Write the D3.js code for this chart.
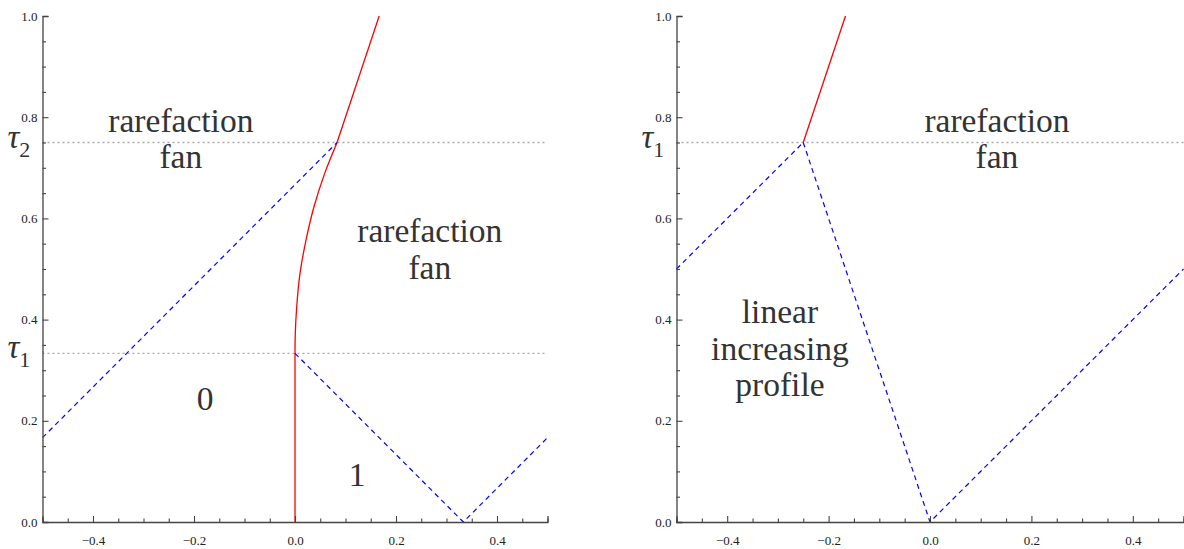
<!DOCTYPE html>
<meta charset="utf-8">
<script src="https://d3js.org/d3.v7.min.js"></script>
<style>
  body { margin: 0; background: #fff; }
</style>
<div id="my_dataviz"></div>
<script>

// ---- data ----
var xMajor = [-0.4, -0.2, 0.0, 0.2, 0.4];
var yMajor = [0.0, 0.2, 0.4, 0.6, 0.8, 1.0];
var minorStep = 0.05;

// left panel
var leftTaus = [{name: "1", value: 1/3}, {name: "2", value: 0.75}];
var leftShock = [[0, 0], [0, 1/3], [0.0005, 0.37], [0.0034, 0.4255], [0.0099, 0.4915],
                 [0.0218, 0.557], [0.0376, 0.623], [0.0588, 0.689], [0.0833, 0.75]];
var leftShockTop = [[0.0833, 0.75], [0.1667, 1.0]];
var leftCharA = [[-0.5, 1/6], [0.0833, 0.75]];
var leftCharB = [[0, 1/3], [1/3, 0], [0.5, 1/6]];
var leftLabels = [
  {lines: ["rarefaction", "fan"], x: -0.226, y: 0.771},
  {lines: ["rarefaction", "fan"], x: 0.267, y: 0.553},
  {lines: ["0"], x: -0.178, y: 0.221},
  {lines: ["1"], x: 0.123, y: 0.071}
];

// right panel
var rightTaus = [{name: "1", value: 0.75}];
var rightShock = [[-0.25, 0.75], [-0.1667, 1.0]];
var rightCharA = [[-0.5, 0.5], [-0.25, 0.75]];
var rightCharB = [[-0.25, 0.75], [0, 0], [0.5, 0.5]];
var rightLabels = [
  {lines: ["rarefaction", "fan"], x: 0.132, y: 0.771},
  {lines: ["linear", "increasing", "profile"], x: -0.296, y: 0.393}
];

// ---- layout ----
var width = 1184, height = 549;
var serif = "'Liberation Serif'";
var svg = d3.select("#my_dataviz").append("svg")
    .attr("width", width)
    .attr("height", height);

var axisColor = "#444", textColor = "#333";

function drawPanel(left, right, taus, curves, labels) {
  var x = d3.scaleLinear().domain([-0.5, 0.5]).range([left, right]);
  var y = d3.scaleLinear().domain([0, 1]).range([522, 16]);
  var g = svg.append("g");

  // dotted tau lines
  taus.forEach(function(t) {
    g.append("line")
      .attr("x1", x(-0.5)).attr("x2", x(0.5))
      .attr("y1", y(t.value)).attr("y2", y(t.value))
      .attr("stroke", "#aaa").attr("stroke-width", 1.3)
      .attr("stroke-dasharray", "2,3");
    var lab = g.append("text")
      .attr("x", left - 35).attr("y", y(t.value) + 5)
      .style("font-family", serif)
      .attr("fill", textColor);
    lab.append("tspan").style("font-family", serif).style("font-size", "33px").style("font-style", "italic").text("τ");
    lab.append("tspan").style("font-family", serif).style("font-size", "22px").attr("dy", 9).text(t.name);
  });

  // curves
  curves.forEach(function(c) {
    var line = d3.line()
      .x(function(d) { return x(d[0]); })
      .y(function(d) { return y(d[1]); })
      .curve(c.curve || d3.curveLinear);
    g.append("path")
      .attr("d", line(c.data))
      .attr("fill", "none")
      .attr("stroke", c.color)
      .attr("stroke-width", c.dash ? 1.2 : 1.3)
      .attr("stroke-dasharray", c.dash || null);
  });

  // axes
  var minorX = d3.range(-0.5, 0.5001, minorStep).filter(function(v) {
    return xMajor.every(function(m) { return Math.abs(m - v) > 1e-6; });
  });
  var minorY = d3.range(0, 1.0001, minorStep).filter(function(v) {
    return yMajor.every(function(m) { return Math.abs(m - v) > 1e-6; });
  });

  var fmt = function(d) { return d3.format(".1f")(d).replace("-", "\u2212"); };

  g.append("g").attr("transform", "translate(0," + y(0) + ")")
    .call(d3.axisBottom(x).tickValues(xMajor).tickSize(-6).tickPadding(14).tickFormat(fmt));
  g.append("g").attr("transform", "translate(0," + y(0) + ")")
    .call(d3.axisBottom(x).tickValues(minorX).tickSize(-3.5).tickFormat(""))
    .select(".domain").remove();

  g.append("g").attr("transform", "translate(" + x(-0.5) + ",0)")
    .call(d3.axisLeft(y).tickValues(yMajor).tickSize(-6).tickPadding(5).tickFormat(fmt));
  g.append("g").attr("transform", "translate(" + x(-0.5) + ",0)")
    .call(d3.axisLeft(y).tickValues(minorY).tickSize(-3.5).tickFormat(""))
    .select(".domain").remove();

  g.selectAll("g").attr("font-family", null);
  g.selectAll(".domain").attr("stroke", axisColor).attr("stroke-width", 1.3);
  g.selectAll(".tick line").attr("stroke", axisColor).attr("stroke-width", 1.1);
  g.selectAll(".tick text")
    .style("font-family", serif)
    .style("font-size", "13px")
    .attr("fill", "#222");

  // annotations
  labels.forEach(function(l) {
    var t = g.append("text")
      .attr("text-anchor", "middle")
      .style("font-family", serif)
      .style("font-size", "33.5px")
      .attr("fill", textColor);
    l.lines.forEach(function(s, i) {
      t.append("tspan")
        .style("font-family", serif)
        .attr("x", x(l.x))
        .attr("y", y(l.y) + i * 36.5)
        .text(s);
    });
  });
}

drawPanel(42.5, 547.5, leftTaus, [
  {data: leftShock, color: "#ff0000", curve: d3.curveMonotoneY},
  {data: leftShockTop, color: "#ff0000"},
  {data: leftCharA, color: "#0000ff", dash: "5,4"},
  {data: leftCharB, color: "#0000ff", dash: "5,4"}
], leftLabels);

drawPanel(676.5, 1183.5, rightTaus, [
  {data: rightShock, color: "#ff0000"},
  {data: rightCharA, color: "#0000ff", dash: "5,4"},
  {data: rightCharB, color: "#0000ff", dash: "5,4"}
], rightLabels);

</script>
